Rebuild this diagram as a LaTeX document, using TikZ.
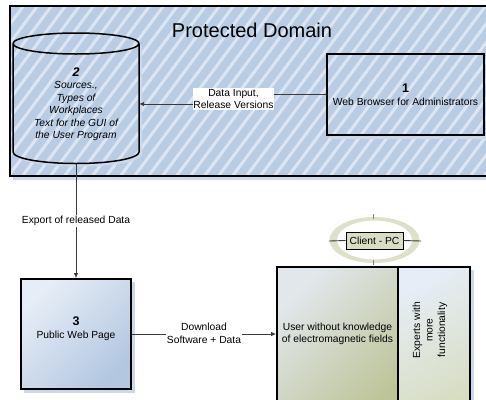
\documentclass[tikz,border=0pt]{standalone}
\usepackage{fontspec}
\setmainfont{Liberation Sans}
\usetikzlibrary{arrows.meta,calc}

\definecolor{domainblue}{HTML}{B8CCE4}
\definecolor{stripeblue}{HTML}{DCE6F2}
\definecolor{shadowblue}{HTML}{CBD9EC}
\definecolor{connline}{HTML}{3A3A3A}
\definecolor{paleblue}{HTML}{E6EDF6}
\definecolor{midblue}{HTML}{B3C7E1}
\definecolor{paleolivea}{HTML}{E2E7EC}
\definecolor{olivemid}{HTML}{C6CCA4}
\definecolor{olive}{HTML}{BCC395}
\definecolor{paleolive}{HTML}{D6DCBD}
\definecolor{ringolive}{HTML}{DEE1C9}
\definecolor{tagolive}{HTML}{DADDC3}

\tikzset{
  every node/.style={font=\fontsize{10.3}{12.5}\selectfont},
  frame/.style={draw=black, line width=1.6pt},
  conn/.style={draw=connline, line width=0.9pt},
  arr/.style={conn, -{Latex[length=5pt,width=4.5pt]}},
  lbl/.style={fill=white, inner sep=0.8pt, align=center},
  shade/.style={fill=shadowblue},
}

% diagonal hatch used for the protected domain (drawn inside a clip)
\newcommand\hatchfill{%
  \fill[domainblue] (0,0) rectangle (500,180);
  \foreach \i in {-150,-136,...,520}
    \draw[stripeblue, line width=3pt] (\i,182) -- ++(136,-182);
}
% database body outline used for fill, clip and shadow
\newcommand\cylbody{(13,152) -- (13,43.5)
  arc[start angle=180, end angle=360, x radius=63, y radius=10.5]
  -- (139,152) arc[start angle=0, end angle=180, x radius=63, y radius=11.5] -- cycle}
\newcommand\numfont{\fontsize{12.5}{14}\selectfont\bfseries}

\begin{document}
\begin{tikzpicture}[x=1pt,y=-1pt]
\useasboundingbox (0,0) rectangle (486,399);

% ---------- protected domain: hatched panel ----------
\fill[shade] (13,9) rectangle (500,180);
\begin{scope}
  \clip (10,6) rectangle (500,176);
  \hatchfill
  % shadows of the shapes inside the domain
  \begin{scope}[shift={(3,3)}]
    \fill[shadowblue] \cylbody;
  \end{scope}
  \fill[shadowblue] (330,135) rectangle (500,139);
  \begin{scope}
    \clip \cylbody;
    \hatchfill
  \end{scope}
\end{scope}
\draw[frame] (10,6) rectangle (500,176);
\node[font=\fontsize{20}{24}\selectfont] (title) at (252,30) {Protected Domain};

% ---------- database cylinder ----------
\draw[line width=1.5pt, black]
  (13,43.5) arc[start angle=180, end angle=360, x radius=63, y radius=10.5]
  (13,43.5) arc[start angle=180, end angle=0, x radius=63, y radius=10.5]
  (13,43.5) -- (13,152)
  arc[start angle=180, end angle=0, x radius=63, y radius=11.5]
  -- (139,43.5);
\node[minimum width=126pt, minimum height=120pt, inner sep=0, align=center,
      font=\fontsize{10.3}{12.5}\selectfont\itshape] (cyl) at (76,104)
  {{\numfont 2}\\Sources.,\\Types of\\Workplaces\\Text for the GUI of\\the User Program};

% ---------- admin browser ----------
\node[frame, minimum width=157pt, minimum height=81pt, inner sep=0, align=center]
  (b1) at (405.5,94.5) {{\numfont 1}\\Web Browser for Administrators};

% data input connector
\coordinate (k1) at (232,94.5);
\coordinate (k2) at (232,104);
\draw[arr] (b1.west) -- (k1) -- (k2) -- (cyl.east);
\node[lbl] (l1) at (233.5,99) {Data Input,\\Release Versions};

% ---------- public web page ----------
\fill[shade] (24,282) rectangle (135,393);
\node[frame, minimum width=110pt, minimum height=110pt, inner sep=0,
      top color=paleblue, bottom color=midblue, shading angle=45]
  (b3) at (76,334) {};
\node[align=center] (t3) at (76,328.5) {{\numfont 3}\\Public Web Page};

\draw[arr] (cyl.south) -- (b3.north);
\node[lbl] (l2) at (76,221) {Export of released Data};

% ---------- client pc ----------
\fill[shade] (401,270) rectangle (474,430);
\node[frame, minimum width=72pt, minimum height=163pt, inner sep=0,
      top color=paleblue, bottom color=paleolive, shading angle=30]
  (exp) at (434,348.5) {};
\node[frame, minimum width=121pt, minimum height=163pt, inner sep=0,
      top color=paleolivea, middle color=olivemid, bottom color=olive, shading angle=45]
  (user) at (337.5,348.5) {};
\node[align=center] (tu) at (337.5,334)
  {User without knowledge\\of electromagnetic fields};
\node[align=center, rotate=90] (te) at (430,330)
  {Experts with\\more\\functionality};

\draw[arr] (b3.east) -- (b3.east -| user.west);
\node[lbl] (l3) at (204,333.3) {Download\\Software + Data};

% ring behind the client tag
\fill[ringolive, even odd rule]
  (374.5,240) ellipse[x radius=45, y radius=23]
  (374.5,240) ellipse[x radius=37.5, y radius=19.5];
\coordinate (cl) at (329,241);
\coordinate (cr) at (421,241);
\coordinate (tt1) at (373,214);
\coordinate (tt2) at (373,219);
\coordinate (tb1) at (373,260);
\coordinate (tb2) at (373,265);
\node[draw=black, line width=0.8pt, minimum width=57pt, minimum height=17pt, inner sep=0,
      fill=tagolive]
  (cpc) at (374.5,240.5) {Client - PC};
\draw[conn] (cl) -- (cpc.west);
\draw[conn] (cpc.east) -- (cr);
\draw[gray, line width=0.8pt] (tt1) -- (tt2);
\draw[gray, line width=0.8pt] (tb1) -- (tb2);
\end{tikzpicture}
\end{document}
